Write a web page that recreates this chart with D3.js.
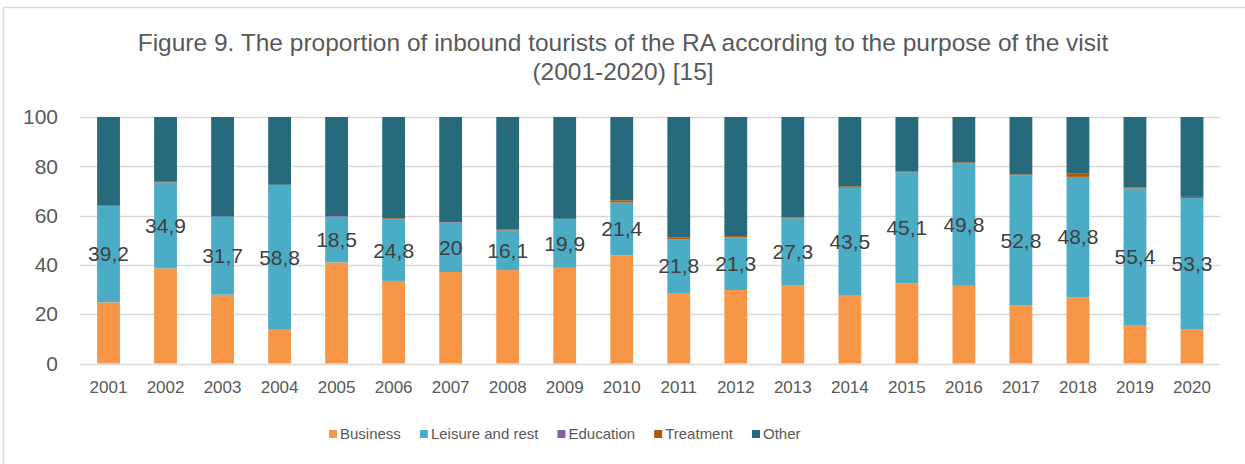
<!DOCTYPE html>
<html>
<head>
<meta charset="utf-8">
<script src="https://cdn.jsdelivr.net/npm/d3@7"></script>
<style>
  html, body { margin: 0; padding: 0; background: #fff; }
  svg { display: block; font-family: "Liberation Sans", Arial, sans-serif; }
</style>
</head>
<body>
<svg id="chart" width="1245" height="464"></svg>
<script>
const years = ["2001","2002","2003","2004","2005","2006","2007","2008","2009","2010",
               "2011","2012","2013","2014","2015","2016","2017","2018","2019","2020"];
const business  = [24.8, 38.6, 27.9, 13.7, 41.0, 33.5, 37.1, 37.9, 38.8, 43.9,
                   28.6, 29.8, 31.6, 27.8, 32.5, 31.5, 23.5, 26.9, 15.6, 13.8];
const leisure   = [39.2, 34.9, 31.7, 58.8, 18.5, 24.8, 20, 16.1, 19.9, 21.4,
                   21.8, 21.3, 27.3, 43.5, 45.1, 49.8, 52.8, 48.8, 55.4, 53.3];
const education = [0, 0, 0, 0, 0.3, 0.2, 0.2, 0, 0, 0,
                   0, 0, 0, 0, 0, 0, 0, 0, 0, 0];
const treatment = [0, 0.2, 0, 0, 0, 0.4, 0, 0.3, 0, 0.9,
                   0.8, 0.6, 0.4, 0.6, 0.4, 0.3, 0.4, 1.5, 0.5, 0.5];
const other     = [36.0, 26.3, 40.4, 27.5, 40.2, 41.1, 42.7, 45.7, 41.3, 33.8,
                   48.8, 48.3, 40.7, 28.1, 22.0, 18.4, 23.3, 22.8, 28.5, 32.4];
const seriesNames = ["Business", "Leisure and rest", "Education", "Treatment", "Other"];
const seriesKeys  = ["business", "leisure", "education", "treatment", "other"];
const yTicks = [0, 20, 40, 60, 80, 100];
const titleLines = ["Figure 9. The proportion of inbound tourists of the RA according to the purpose of the visit",
                    "(2001-2020) [15]"];

const colors = ["#F79646", "#4BACC6", "#8064A2", "#B65708", "#276A7B"];

const rows = years.map((y, i) => ({
  year: y, business: business[i], leisure: leisure[i], education: education[i],
  treatment: treatment[i], other: other[i]
}));

const svg = d3.select("#chart");

// outer border
svg.append("rect").attr("x", 3.5).attr("y", 7.5).attr("width", 1260).attr("height", 480)
  .attr("fill", "#fff").attr("stroke", "#D9D9D9").attr("stroke-width", 1.5);

const x = d3.scaleBand().domain(years).range([80, 1220.5]).paddingInner(0.6).paddingOuter(0.3);
const y = d3.scaleLinear().domain([0, 100]).range([363.5, 117]);

// gridlines
svg.append("g").selectAll("line").data(yTicks).join("line")
  .attr("x1", 80).attr("x2", 1220.5)
  .attr("y1", d => Math.round(y(d)) + 0.5).attr("y2", d => Math.round(y(d)) + 0.5)
  .attr("stroke", "#D9D9D9").attr("stroke-width", 1.3);

// y axis labels
const yAxis = d3.axisLeft(y).tickValues(yTicks).tickSize(0).tickPadding(0);
const gy = svg.append("g").attr("transform", "translate(58,0)").call(yAxis);
gy.select(".domain").remove();
gy.selectAll("text").attr("font-size", 21).attr("fill", "#595959")
  .attr("font-family", "Liberation Sans, Arial, sans-serif");

// x axis labels
const xAxis = d3.axisBottom(x).tickSize(0).tickPadding(0);
const gx = svg.append("g").attr("transform", "translate(0,381)").call(xAxis);
gx.select(".domain").remove();
gx.selectAll("text").attr("font-size", 17).attr("fill", "#595959")
  .attr("font-family", "Liberation Sans, Arial, sans-serif");

// stacked bars
const stack = d3.stack().keys(seriesKeys);
const stacked = stack(rows);
svg.append("g").selectAll("g").data(stacked).join("g")
  .attr("fill", (d, i) => colors[i])
  .selectAll("rect").data(d => d).join("rect")
  .attr("x", d => x(d.data.year))
  .attr("width", x.bandwidth())
  .attr("y", d => y(d[1]))
  .attr("height", d => Math.max(0, y(d[0]) - y(d[1])));

// data labels on leisure
const leisureLayer = stacked[1];
svg.append("g").selectAll("text").data(leisureLayer).join("text")
  .attr("x", d => x(d.data.year) + x.bandwidth() / 2)
  .attr("y", d => y((d[0] + d[1]) / 2))
  .attr("dy", "0.35em")
  .attr("text-anchor", "middle")
  .attr("font-size", 21)
  .attr("fill", "#404040")
  .text(d => String(d.data.leisure).replace(".", ","));

// title
svg.append("g").selectAll("text").data(titleLines).join("text")
  .attr("x", 623).attr("y", (d, i) => 51 + i * 29)
  .attr("text-anchor", "middle")
  .attr("font-size", 24.5)
  .attr("fill", "#595959")
  .text(d => d);

// legend
const legend = svg.append("g").attr("transform", "translate(329,434)");
let lx = 0;
seriesNames.forEach((name, i) => {
  const g = legend.append("g").attr("transform", `translate(${lx},0)`);
  g.append("rect").attr("x", 0).attr("y", -4).attr("width", 8).attr("height", 8).attr("fill", colors[i]);
  const t = g.append("text").attr("x", 11).attr("y", 0).attr("dy", "0.35em")
    .attr("font-size", 15).attr("fill", "#595959").text(name);
  lx += 11 + t.node().getComputedTextLength() + 19;
});
</script>
</body>
</html>
